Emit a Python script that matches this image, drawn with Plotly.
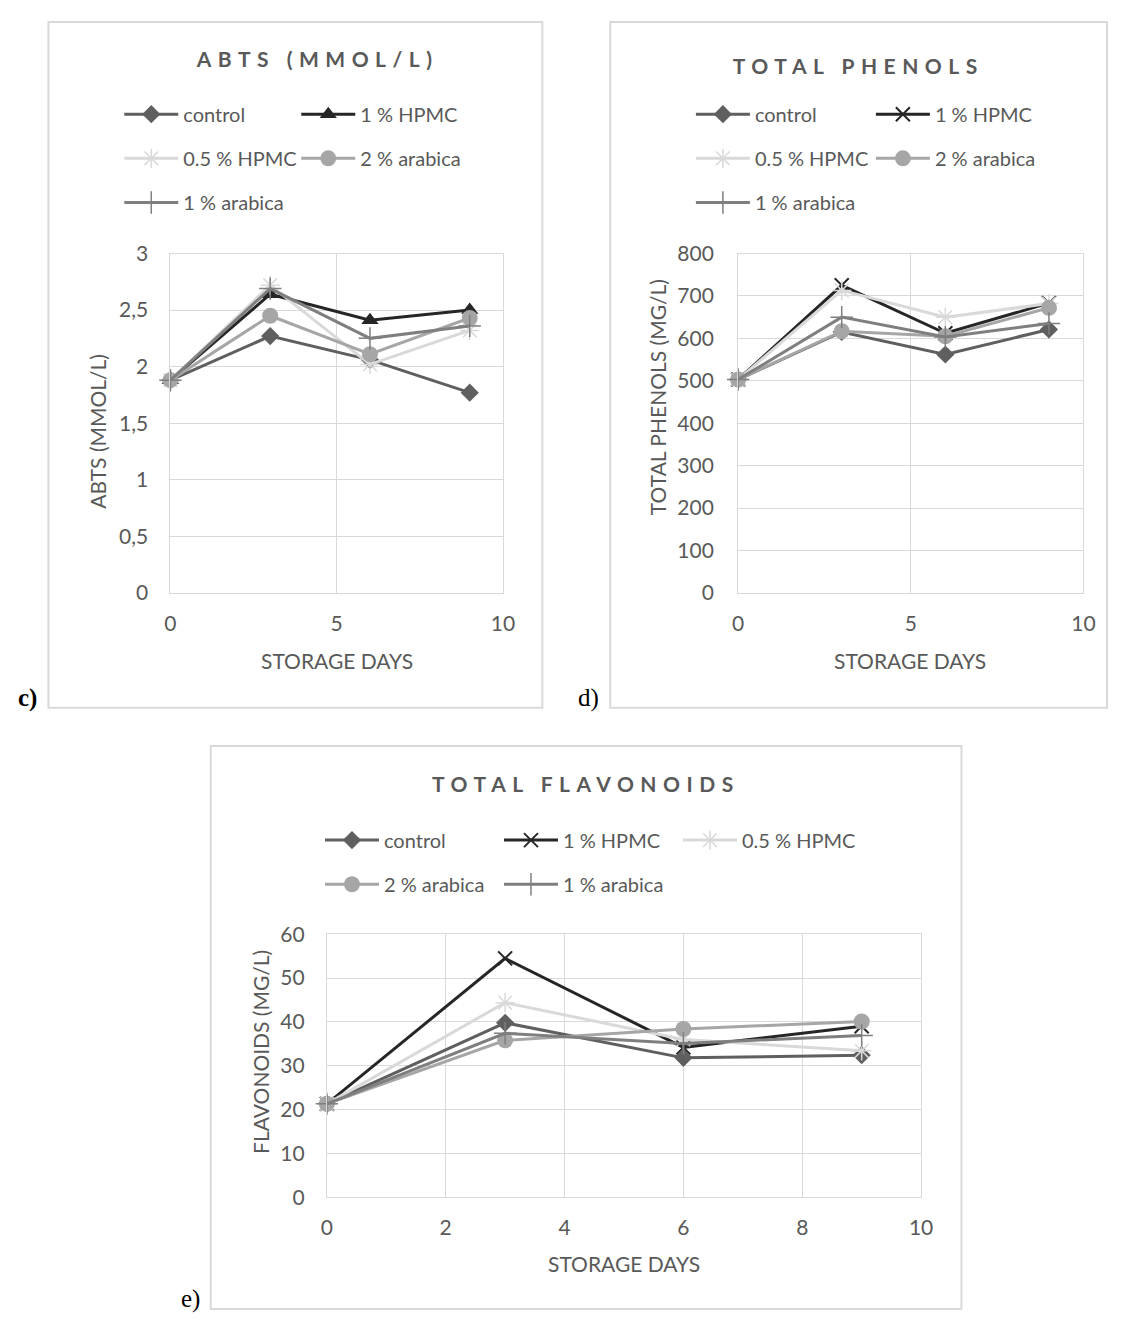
import plotly.graph_objects as go

# page is 1131x1329 with the browser's default 8px body margin
W, H = 1115, 1313
OFF = 8

# ---------------- data ----------------
days = [0, 3, 6, 9]
series_names = ["control", "1 % HPMC", "0.5 % HPMC", "2 % arabica", "1 % arabica"]

abts_control = [1.88, 2.27, 2.06, 1.77]
abts_hpmc1 = [1.88, 2.64, 2.41, 2.50]
abts_hpmc05 = [1.88, 2.72, 2.02, 2.32]
abts_arab2 = [1.88, 2.45, 2.11, 2.43]
abts_arab1 = [1.88, 2.69, 2.25, 2.36]

phen_control = [503, 615, 562, 621]
phen_hpmc1 = [503, 725, 612, 683]
phen_hpmc05 = [503, 713, 650, 682]
phen_arab2 = [503, 617, 605, 672]
phen_arab1 = [503, 650, 603, 635]

flav_control = [21.3, 39.8, 31.8, 32.4]
flav_hpmc1 = [21.3, 54.5, 34.2, 39.0]
flav_hpmc05 = [21.3, 44.4, 36.0, 33.4]
flav_arab2 = [21.3, 35.8, 38.4, 40.1]
flav_arab1 = [21.3, 37.4, 35.1, 36.9]

abts_ticks = [0, 0.5, 1, 1.5, 2, 2.5, 3]
phen_ticks = [0, 100, 200, 300, 400, 500, 600, 700, 800]
flav_ticks = [0, 10, 20, 30, 40, 50, 60]
x_ticks_cd = [0, 5, 10]
x_ticks_e = [0, 2, 4, 6, 8, 10]

# ---------------- style ----------------
FONT = "Lato"
TXT = "#595959"
GRID = "#d9d9d9"
colors = ["#5f5f5f", "#262626", "#d9d9d9", "#a6a6a6", "#7f7f7f"]


def px(x):
    return (x - OFF) / W


def py(y):
    return 1 - (y - OFF) / H


def marker_for(i, hpmc_symbol):
    c = colors[i]
    if i == 0:
        return dict(symbol="diamond", size=14, color=c)
    if i == 1:
        if hpmc_symbol == "triangle":
            return dict(symbol="triangle-up", size=15, color=c)
        return dict(symbol="x-thin-open", size=14, color=c, line=dict(color=c, width=2))
    if i == 2:
        return dict(symbol="asterisk-open", size=16, color=c, line=dict(color=c, width=1.5))
    if i == 3:
        return dict(symbol="circle", size=16, color=c)
    return dict(symbol="cross-thin-open", size=16, color=c, line=dict(color=c, width=1.5))


fig = go.Figure()

charts = [
    dict(ax="", series=[abts_control, abts_hpmc1, abts_hpmc05, abts_arab2, abts_arab1],
         hpmc="triangle", ew=108,
         legends=[["legend", [0, 1]], ["legend2", [2, 3]], ["legend3", [4]]]),
    dict(ax="2", series=[phen_control, phen_hpmc1, phen_hpmc05, phen_arab2, phen_arab1],
         hpmc="x", ew=111,
         legends=[["legend4", [0, 1]], ["legend5", [2, 3]], ["legend6", [4]]]),
    dict(ax="3", series=[flav_control, flav_hpmc1, flav_hpmc05, flav_arab2, flav_arab1],
         hpmc="x", ew=110,
         legends=[["legend7", [0, 1, 2]], ["legend8", [3, 4]]]),
]

for ch in charts:
    leg_of = {}
    last = set()
    for lg, idxs in ch["legends"]:
        for i in idxs:
            leg_of[i] = lg
        last.add(idxs[-1])
    for i, name in enumerate(series_names):
        fig.add_trace(go.Scatter(
            x=days, y=ch["series"][i], name=name, mode="lines+markers",
            line=dict(color=colors[i], width=3),
            marker=marker_for(i, ch["hpmc"]),
            xaxis="x" + ch["ax"], yaxis="y" + ch["ax"],
            legend=leg_of[i], showlegend=True, cliponaxis=False,
            legendwidth=160 if i in last else ch["ew"],
        ))

axis_common = dict(showgrid=True, gridcolor=GRID, gridwidth=1, zeroline=False,
                   showline=True, linecolor=GRID, linewidth=1, mirror=True,
                   ticks="", tickfont=dict(family=FONT, size=21, color=TXT))

layout = dict(
    width=W, height=H, margin=dict(l=0, r=0, t=0, b=0),
    paper_bgcolor="white", plot_bgcolor="white",
    separators=", ",
    font=dict(family=FONT, color=TXT),
    xaxis=dict(domain=[px(167), px(505)], range=[0, 10], tickvals=x_ticks_cd,
               anchor="y", ticklabelstandoff=12, **axis_common),
    yaxis=dict(domain=[py(590), py(244)], range=[0, 3], tickvals=abts_ticks,
               anchor="x", ticklabelstandoff=17, **axis_common),
    xaxis2=dict(domain=[px(744), px(1095)], range=[0, 10], tickvals=x_ticks_cd,
                anchor="y2", ticklabelstandoff=12, **axis_common),
    yaxis2=dict(domain=[py(590), py(244)], range=[0, 800], tickvals=phen_ticks,
                anchor="x2", ticklabelstandoff=19, **axis_common),
    xaxis3=dict(domain=[px(326), px(930)], range=[0, 10], tickvals=x_ticks_e,
                anchor="y3", ticklabelstandoff=12, **axis_common),
    yaxis3=dict(domain=[py(1206), py(938)], range=[0, 60], tickvals=flav_ticks,
                anchor="x3", ticklabelstandoff=17, **axis_common),
)

# legends: one per row
leg_font = dict(family=FONT, size=20, color=TXT)
leg_specs = {
    "legend": (115, 102), "legend2": (115, 147), "legend3": (115, 192),
    "legend4": (696, 102), "legend5": (696, 147), "legend6": (696, 192),
    "legend7": (319, 842), "legend8": (319, 887),
}
for lg, (lx, ly) in leg_specs.items():
    layout[lg] = dict(orientation="h", x=px(lx), y=py(ly), xanchor="left", yanchor="middle",
                      font=leg_font, itemwidth=54, entrywidthmode="pixels",
                      bgcolor="rgba(0,0,0,0)", borderwidth=0, traceorder="normal",
                      itemclick=False, itemdoubleclick=False)

fig.update_layout(**layout)

# boxes
for (x0, y0, x1, y1) in [(43, 8, 545, 707), (614, 8, 1119, 707), (208, 746, 971, 1320)]:
    fig.add_shape(type="rect", xref="paper", yref="paper",
                  x0=px(x0), x1=px(x1), y0=py(y1), y1=py(y0),
                  line=dict(color=GRID, width=2), fillcolor="rgba(0,0,0,0)", layer="below")

# titles
titles = [("ABTS (MMOL/L)", 316, 45), ("TOTAL PHENOLS", 866, 52), ("TOTAL FLAVONOIDS", 589, 784)]
for t, x, y in titles:
    fig.add_annotation(text=t, x=px(x), y=py(y), xref="paper", yref="paper", showarrow=False,
                       xanchor="center", yanchor="middle",
                       font=dict(family=FONT, size=21, color=TXT, weight="bold"))

# axis titles
ax_titles = [
    ("STORAGE DAYS", 336, 659, 0), ("ABTS (MMOL/L)", 92, 425, -90),
    ("STORAGE DAYS", 919, 659, 0), ("TOTAL PHENOLS (MG/L)", 662, 390, -90),
    ("STORAGE DAYS", 628, 1274, 0), ("FLAVONOIDS (MG/L)", 258, 1058, -90),
]
for t, x, y, a in ax_titles:
    fig.add_annotation(text=t, x=px(x), y=py(y), xref="paper", yref="paper", showarrow=False,
                       xanchor="center", yanchor="middle", textangle=a,
                       font=dict(family=FONT, size=21, color=TXT))

# panel labels
panel = [("c)", 22, 697, "bold"), ("d)", 592, 697, "normal"), ("e)", 187, 1310, "normal")]
for t, x, y, wgt in panel:
    fig.add_annotation(text=t, x=px(x), y=py(y), xref="paper", yref="paper", showarrow=False,
                       xanchor="center", yanchor="middle",
                       font=dict(family="Liberation Serif", size=25, color="black", weight=wgt))

post = """
var gd=document.getElementById('{plot_id}');
gd.querySelectorAll('g.annotation').forEach(function(g){
  var idx=parseInt(g.getAttribute('data-index'));
  if(idx<3){
    var t=g.querySelector('text.annotation-text');
    if(t){ t.setAttribute('letter-spacing','6.5px'); }
  }
});
"""

fig.write_html("out.html", post_script=post, config={"displayModeBar": False})
